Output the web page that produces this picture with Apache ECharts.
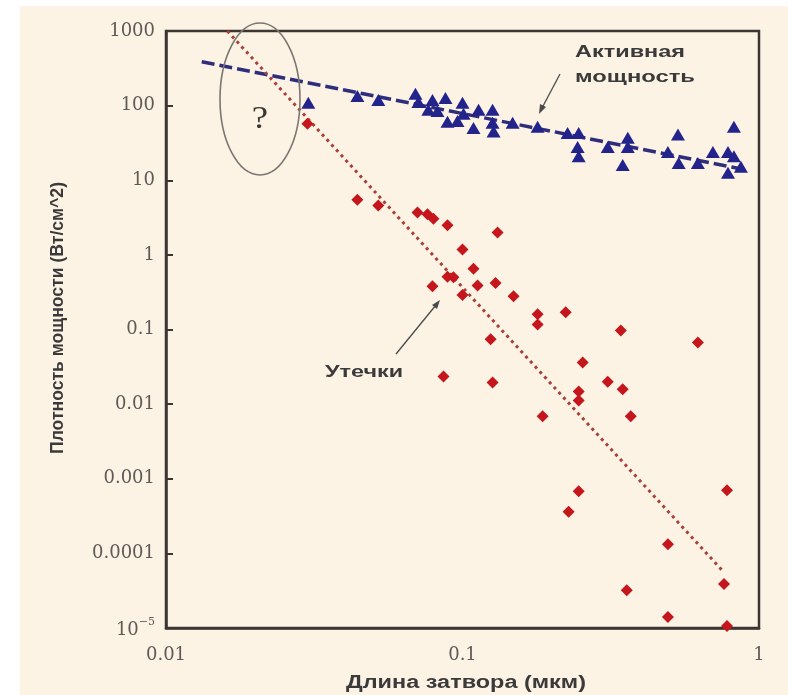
<!DOCTYPE html>
<html>
<head>
<meta charset="utf-8">
<script src="https://cdn.jsdelivr.net/npm/echarts@6/dist/echarts.min.js"></script>
<style>
  html, body { margin: 0; padding: 0; background: #fff; }
  #main { width: 788px; height: 695px; }
</style>
</head>
<body>
<div id="main"></div>
<script>
// Gate length (um) and power density (W/cm^2)
const activeX = [0.0302, 0.0442, 0.052, 0.0694, 0.071, 0.0792, 0.0876, 0.0767, 0.0823, 0.089,
    0.0962, 0.1, 0.1008, 0.1089, 0.1133, 0.1263, 0.1263, 0.1273, 0.1476, 0.1792,
    0.2262, 0.2465, 0.2445, 0.2465, 0.309, 0.361, 0.361, 0.347, 0.533, 0.493,
    0.536, 0.622, 0.699, 0.786, 0.823, 0.786, 0.869, 0.823];
const activeY = [109, 135, 119, 144, 112, 119, 127, 88, 85, 61,
    62, 109, 78, 50, 88, 88, 59, 45, 59, 52,
    43, 43, 28, 21, 28, 37, 28, 16, 41, 24,
    17, 17, 24, 24, 52, 12.6, 15.2, 21];

const leakX = [0.03, 0.0442, 0.052, 0.0705, 0.0762, 0.0798, 0.089, 0.1, 0.1313, 0.1089,
    0.089, 0.0932, 0.0792, 0.1, 0.1124, 0.1293, 0.1487, 0.1792, 0.1792, 0.2229,
    0.1244, 0.342, 0.622, 0.2543, 0.0863, 0.1263, 0.309, 0.347, 0.2465, 0.2465,
    0.1863, 0.3694, 0.2465, 0.228, 0.78, 0.493, 0.762, 0.358, 0.493, 0.78];
const leakY = [57, 5.5, 4.6, 3.7, 3.5, 3.05, 2.5, 1.18, 2.0, 0.65,
    0.51, 0.5, 0.38, 0.29, 0.39, 0.42, 0.28, 0.16, 0.117, 0.17,
    0.074, 0.097, 0.067, 0.036, 0.0235, 0.0195, 0.02, 0.0158, 0.0148, 0.0112,
    0.0069, 0.0069, 0.00068, 0.00036, 0.0007, 0.000133, 0.000039, 0.000032, 0.000014, 0.0000106];

// fitted trend lines (end points)
const activeTrendX = [0.0132, 0.9];
const activeTrendY = [388, 13.8];
const leakTrendX = [0.0161, 0.755];
const leakTrendY = [1000, 0.000058];

const xTicks = [0.01, 0.1, 1];
const yTicks = [1e-5, 1e-4, 1e-3, 0.01, 0.1, 1, 10, 100, 1000];

const zip = (xs, ys) => xs.map((x, i) => [x, ys[i]]);

const myChart = echarts.init(document.getElementById('main'));

function yLabel(v) {
    const e = Math.round(Math.log10(v));
    if (e === -5) return '{b|10}{s|\u22125}';
    if (e >= 0) return String(Math.pow(10, e));
    return Math.pow(10, e).toFixed(-e);
}

// the picture's lettering is wide, so texts are stretched to the widths seen there
const ctx = document.createElement('canvas').getContext('2d');
function stretch(text, font, target) {
    ctx.font = font;
    return target / ctx.measureText(text).width;
}

const serif = "'DejaVu Serif', 'Liberation Serif', serif";
const titleFont = "bold 18px 'Liberation Sans Narrow', 'Liberation Sans', sans-serif";
const noteFont = "bold 17px 'Liberation Sans', Arial, sans-serif";
const xTitle = 'Длина затвора (мкм)';
const yTitle = 'Плотность мощности (Вт/см^2)';

let option = {
    backgroundColor: '#fdf3e4',
    animation: false,
    grid: {
        left: 166, right: 29, top: 31, bottom: 67,
        show: true,
        borderColor: '#3b3632',
        borderWidth: 2.5,
        backgroundColor: 'transparent'
    },
    xAxis: {
        type: 'log',
        logBase: 10,
        min: xTicks[0],
        max: xTicks[xTicks.length - 1],
        splitNumber: xTicks.length - 1,
        axisLine: { lineStyle: { color: '#3b3632', width: 2.5 } },
        axisTick: { show: false },
        splitLine: { show: false },
        axisLabel: {
            margin: 18,
            fontFamily: serif, fontSize: 18, color: '#5e5a57',
            formatter: v => String(+v.toPrecision(3))
        }
    },
    yAxis: {
        type: 'log',
        logBase: 10,
        min: yTicks[0],
        max: yTicks[yTicks.length - 1],
        splitNumber: yTicks.length - 1,
        axisLine: { lineStyle: { color: '#3b3632', width: 2.5 } },
        axisTick: { show: true, inside: true, length: 7, lineStyle: { color: '#3b3632', width: 2 } },
        splitLine: { show: false },
        axisLabel: {
            margin: 11,
            fontFamily: serif, fontSize: 18, color: '#5e5a57',
            formatter: yLabel,
            rich: {
                b: { fontFamily: serif, fontSize: 18, color: '#5e5a57', verticalAlign: 'bottom', lineHeight: 22 },
                s: { fontFamily: serif, fontSize: 11, color: '#5e5a57', verticalAlign: 'top', lineHeight: 22 }
            }
        }
    },
    series: [
        {
            type: 'line',
            data: zip(activeTrendX, activeTrendY),
            symbol: 'none',
            lineStyle: { color: '#2e2e7c', width: 3.5, type: [13, 5] },
            z: 2
        },
        {
            type: 'line',
            data: zip(leakTrendX, leakTrendY),
            symbol: 'none',
            lineStyle: { color: '#a8403a', width: 3, type: [3, 4] },
            z: 2
        },
        {
            name: 'Активная мощность',
            type: 'scatter',
            symbol: 'triangle',
            symbolSize: [14, 12],
            data: zip(activeX, activeY),
            itemStyle: { color: '#23238c', opacity: 1 },
            z: 3
        },
        {
            name: 'Утечки',
            type: 'scatter',
            symbol: 'diamond',
            symbolSize: 12,
            data: zip(leakX, leakY),
            itemStyle: { color: '#c4161c', opacity: 1 },
            z: 3
        }
    ],
    graphic: [
        // white margins round the cream panel
        { type: 'rect', z: 100, shape: { x: 0, y: 0, width: 20, height: 695 }, style: { fill: '#fff' } },
        { type: 'rect', z: 100, shape: { x: 0, y: 0, width: 788, height: 6 }, style: { fill: '#fff' } },
        // axis titles
        { type: 'text', z: 50, x: 466, y: 683, scaleX: stretch(xTitle, titleFont, 240),
          style: { text: xTitle, font: titleFont, fill: '#3a3a3a', align: 'center', verticalAlign: 'middle' } },
        { type: 'text', z: 50, x: 58, y: 318, rotation: Math.PI / 2, scaleX: stretch(yTitle, titleFont, 272),
          style: { text: yTitle, font: titleFont, fill: '#3a3a3a', align: 'center', verticalAlign: 'middle' } },
        // ellipse with question mark
        { type: 'ellipse', z: 50, shape: { cx: 260, cy: 99, rx: 40, ry: 76 }, style: { fill: 'none', stroke: '#7a7672', lineWidth: 1.6 } },
        { type: 'text', z: 50, x: 260, y: 120, scaleX: 1.15, style: { text: '?', font: "32px 'Liberation Serif', serif", fill: '#3a3633', align: 'center', verticalAlign: 'middle' } },
        // annotations
        { type: 'text', z: 50, x: 575, y: 52, scaleX: stretch('Активная', noteFont, 110),
          style: { text: 'Активная', font: noteFont, fill: '#3a3a3a', verticalAlign: 'middle' } },
        { type: 'text', z: 50, x: 575, y: 77, scaleX: stretch('мощность', noteFont, 120),
          style: { text: 'мощность', font: noteFont, fill: '#3a3a3a', verticalAlign: 'middle' } },
        { type: 'line', z: 50, shape: { x1: 560, y1: 74, x2: 542, y2: 108 }, style: { stroke: '#4a4a4a', lineWidth: 1.3 } },
        { type: 'polygon', z: 50, shape: { points: [[539, 114], [540, 104], [546, 107]] }, style: { fill: '#4a4a4a' } },
        { type: 'text', z: 50, x: 325, y: 372, scaleX: stretch('Утечки', noteFont, 78),
          style: { text: 'Утечки', font: noteFont, fill: '#3a3a3a', verticalAlign: 'middle' } },
        { type: 'line', z: 50, shape: { x1: 396, y1: 354, x2: 436, y2: 305 }, style: { stroke: '#4a4a4a', lineWidth: 1.3 } },
        { type: 'polygon', z: 50, shape: { points: [[440, 300], [432, 305], [437, 309]] }, style: { fill: '#4a4a4a' } }
    ]
};

option && myChart.setOption(option);
</script>
</body>
</html>
